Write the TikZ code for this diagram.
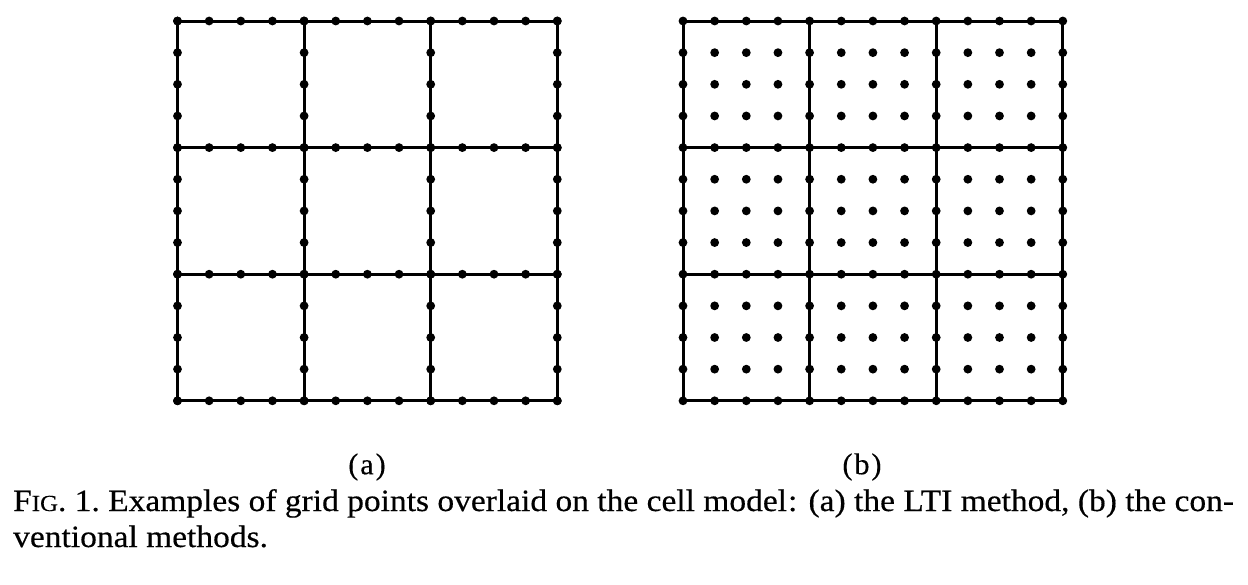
\documentclass[tikz,border=0pt]{standalone}
\usepackage{fontspec}
\newfontfamily\capfont[FakeStretch=1.08,FakeBold=0.4]{Liberation Serif}
\newfontfamily\labfont[FakeBold=0.3]{Liberation Serif}
\begin{document}
\begin{tikzpicture}[x=1pt,y=-1pt,
  gridline/.style={line width=3pt, line cap=round},
  gp/.style={fill=black},
  sublabel/.style={font=\labfont\fontsize{30}{34}\selectfont},
  captext/.style={anchor=base west, inner sep=0pt, font=\capfont\fontsize{31}{36}\selectfont}]
\useasboundingbox (0,0) rectangle (1248,584);
\def\s{31.65}
\def\r{4.4}
% (a) LTI grid
\begin{scope}[shift={(177.5,21)}]
  \foreach \k in {0,1,2,3} {
    \draw[gridline] (0,4*\k*\s) -- (12*\s,4*\k*\s);
    \draw[gridline] (4*\k*\s,0) -- (4*\k*\s,12*\s);
    \foreach \t in {0,...,12} {
      \fill[gp] (\t*\s,4*\k*\s) circle (\r);
      \fill[gp] (4*\k*\s,\t*\s) circle (\r);
    }
  }
\end{scope}
% (b) conventional grid
\begin{scope}[shift={(683,21)}]
  \foreach \k in {0,1,2,3} {
    \draw[gridline] (0,4*\k*\s) -- (12*\s,4*\k*\s);
    \draw[gridline] (4*\k*\s,0) -- (4*\k*\s,12*\s);
  }
  \foreach \i in {0,...,12} {
    \foreach \j in {0,...,12} {
      \fill[gp] (\i*\s,\j*\s) circle (\r);
    }
  }
\end{scope}
\node[sublabel] (la) at (367,467) {(\kern2pt a\kern2pt)};
\node[sublabel] (lb) at (862,467) {(\kern2pt b\kern2pt)};
\node[captext] (cap1) at (13,511) {F{\fontsize{23}{26}\selectfont IG}. 1.\ Examples of grid points overlaid on the cell model\kern1pt: (a) the LTI method, (b) the con-};
\node[captext] (cap2) at (13,547) {ventional methods.};
\end{tikzpicture}
\end{document}
